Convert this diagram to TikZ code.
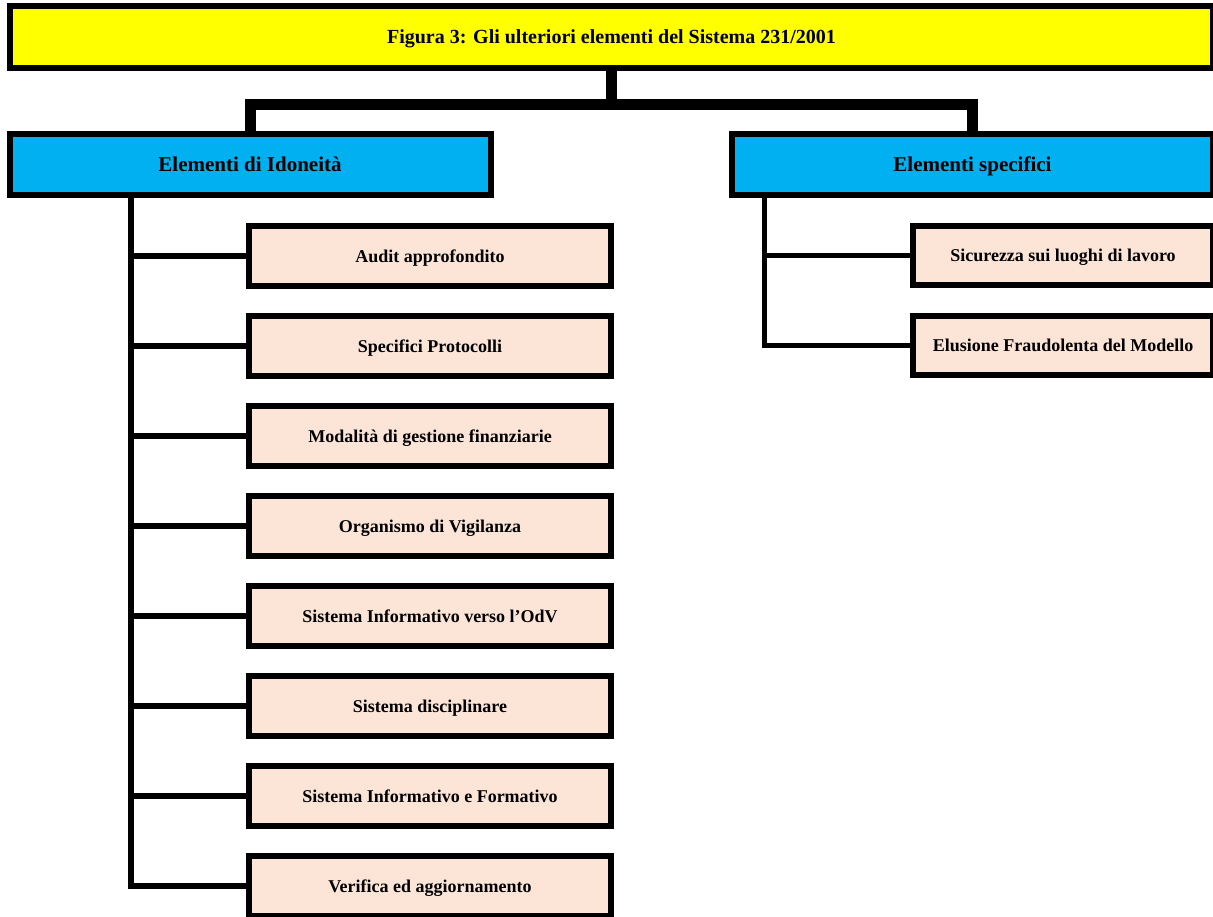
\documentclass[tikz,border=0pt]{standalone}
\usepackage{fontspec}
\setmainfont{Liberation Serif}
\usetikzlibrary{positioning}
\definecolor{titleyellow}{HTML}{FFFF00}
\definecolor{groupblue}{HTML}{00B0F0}
\definecolor{itempeach}{HTML}{FCE4D6}
\begin{document}
\begin{tikzpicture}[x=1pt, y=1pt,
        box/.style = {draw, line width = 6pt, inner sep = 0pt, text depth = 0pt},
        titlebox/.style = {box, fill = titleyellow, minimum width = 1203, minimum height = 62,
            font = \fontsize{20}{22}\selectfont\bfseries},
        groupbox/.style = {box, fill = groupblue, minimum width = 481, minimum height = 61,
            font = \fontsize{21}{23}\selectfont\bfseries},
        itembox/.style = {box, fill = itempeach, minimum width = 362, minimum height = 60,
            font = \fontsize{18}{20}\selectfont\bfseries},
        sidebox/.style = {itembox, minimum width = 300, minimum height = 59},
        trunk/.style = {line width = 11pt},
        branch/.style = {line width = 5.5pt}]
        \useasboundingbox (0,0) rectangle (1213,-916);
        \node[titlebox] (title) at (611.5,-37) {Figura 3: Gli ulteriori elementi del Sistema 231/2001};
        \node[groupbox] (idon) at (250,-164.5) {Elementi di Idoneità};
        \node[groupbox] (spec) at (972.5,-164.5) {Elementi specifici};
        % elementi di idoneita
        \node[itembox] (audit) at (430,-256) {Audit approfondito};
        \node[itembox] (proto) at (430,-346) {Specifici Protocolli};
        \node[itembox] (finan) at (430,-436) {Modalità di gestione finanziarie};
        \node[itembox] (odv) at (430,-526) {Organismo di Vigilanza};
        \node[itembox] (info) at (430,-616) {Sistema Informativo verso l’OdV};
        \node[itembox] (disc) at (430,-706) {Sistema disciplinare};
        \node[itembox] (form) at (430,-796) {Sistema Informativo e Formativo};
        \node[itembox] (verif) at (430,-886) {Verifica ed aggiornamento};
        % elementi specifici
        \node[sidebox] (sicur) at (1063,-255.5) {Sicurezza sui luoghi di lavoro};
        \node[sidebox] (elus) at (1063,-345.5) {Elusione Fraudolenta del Modello};
        % connettori
        \coordinate (fork) at ([yshift=-33] title.south);
        \draw[trunk] (title.south) -- (fork) -| (idon.north);
        \draw[trunk] (fork) -| (spec.north);
        \begin{scope}[branch]
            \draw ([xshift=-119] idon.south) |- (audit.west);
            \draw ([xshift=-119] idon.south) |- (proto.west);
            \draw ([xshift=-119] idon.south) |- (finan.west);
            \draw ([xshift=-119] idon.south) |- (odv.west);
            \draw ([xshift=-119] idon.south) |- (info.west);
            \draw ([xshift=-119] idon.south) |- (disc.west);
            \draw ([xshift=-119] idon.south) |- (form.west);
            \draw ([xshift=-119] idon.south) |- (verif.west);
            \draw ([xshift=-208] spec.south) |- (sicur.west);
            \draw ([xshift=-208] spec.south) |- (elus.west);
        \end{scope}
    \end{tikzpicture}
\end{document}
